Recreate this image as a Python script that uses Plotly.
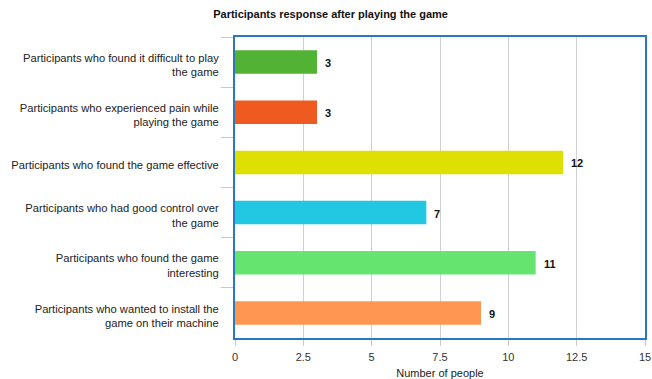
import plotly.graph_objects as go

categories = [
    "Participants who found it difficult to play<br>the game",
    "Participants who experienced pain while<br>playing the game",
    "Participants who found the game effective",
    "Participants who had good control over<br>the game",
    "Participants who found the game<br>interesting",
    "Participants who wanted to install the<br>game on their machine",
]
counts = [3, 3, 12, 7, 11, 9]
colors = ["#52b234", "#ee5a20", "#dde000", "#22c8e2", "#66e470", "#ff9652"]

FONT = "Liberation Sans, Arial, sans-serif"

fig = go.Figure(
    go.Bar(
        x=counts,
        y=categories,
        orientation="h",
        marker=dict(color=colors, line=dict(width=0)),
        width=0.47,
        hoverinfo="skip",
    )
)

# value labels just right of each bar end
for cat, v in zip(categories, counts):
    fig.add_annotation(
        x=v,
        y=cat,
        text=f"<b>{v}</b>",
        showarrow=False,
        xanchor="left",
        yanchor="middle",
        xshift=6,
        yshift=-1,
        font=dict(size=11, color="#111111", family=FONT),
    )

fig.update_layout(
    width=652,
    height=379,
    margin=dict(l=235, r=7, t=37, b=41),
    paper_bgcolor="white",
    plot_bgcolor="white",
    font=dict(family=FONT, size=11, color="#222222"),
    title=dict(
        text="<b>Participants response after playing the game</b>",
        x=0.507,
        xanchor="center",
        y=0.963,
        yanchor="middle",
        font=dict(size=11, color="#111111"),
    ),
    showlegend=False,
)

fig.update_xaxes(
    automargin=False,
    range=[0, 15],
    dtick=2.5,
    showgrid=True,
    gridcolor="#d0d0d0",
    gridwidth=1,
    zeroline=False,
    showline=True,
    linecolor="#2a78c0",
    linewidth=2,
    mirror=True,
    ticks="outside",
    ticklen=6,
    tickcolor="#c8c8c8",
    tickfont=dict(size=11, color="#333333"),
    ticklabelstandoff=2,
    title=dict(text="Number of people", font=dict(size=11, color="#222222"), standoff=8),
)

fig.update_yaxes(
    automargin=False,
    autorange="reversed",
    showgrid=False,
    showline=True,
    linecolor="#2a78c0",
    linewidth=2,
    mirror=True,
    ticks="outside",
    tickson="boundaries",
    ticklen=12,
    tickcolor="#c8c8c8",
    tickfont=dict(size=11.2, color="#222222"),
    ticklabelstandoff=12,
    ticklabelshift=-3,
)

fig.write_html("out.html")
